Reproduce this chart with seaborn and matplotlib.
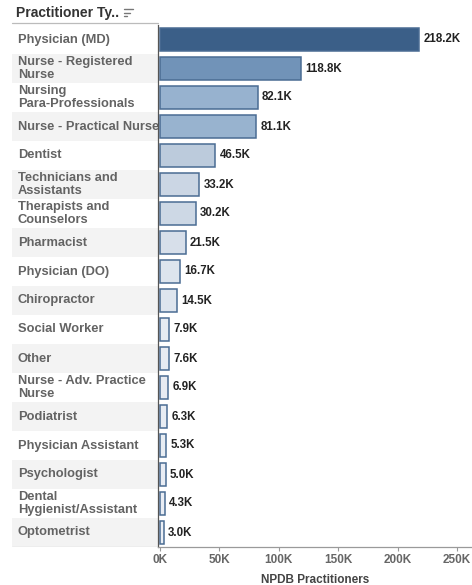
import numpy as np
import pandas as pd
import matplotlib.pyplot as plt
import seaborn as sns
from matplotlib.colors import LinearSegmentedColormap, Normalize
from matplotlib.lines import Line2D

# data (thousands)
practitioner_types = [
    "Physician (MD)", "Nurse - Registered\nNurse", "Nursing\nPara-Professionals",
    "Nurse - Practical Nurse", "Dentist", "Technicians and\nAssistants",
    "Therapists and\nCounselors", "Pharmacist", "Physician (DO)", "Chiropractor",
    "Social Worker", "Other", "Nurse - Adv. Practice\nNurse", "Podiatrist",
    "Physician Assistant", "Psychologist", "Dental\nHygienist/Assistant", "Optometrist",
]
practitioners_k = [218.2, 118.8, 82.1, 81.1, 46.5, 33.2, 30.2, 21.5, 16.7, 14.5,
                   7.9, 7.6, 6.9, 6.3, 5.3, 5.0, 4.3, 3.0]
x_ticks = [0, 50, 100, 150, 200, 250]

df = pd.DataFrame({"type": practitioner_types, "value": practitioners_k})

sns.set_theme(style="white")
plt.rcParams['font.family'] = ['Liberation Sans', 'DejaVu Sans']

W, H = 472, 585
fig = plt.figure(figsize=(W / 100, H / 100), dpi=100)

top, bottom = 25, 547
lab = fig.add_axes([12 / W, 1 - bottom / H, (158 - 12) / W, (bottom - top) / H])
ax = fig.add_axes([158 / W, 1 - bottom / H, (W - 158) / W, (bottom - top) / H])
ax.set_zorder(2)
ax.patch.set_alpha(0)

# sequential blue like the original colour legend
cmap = LinearSegmentedColormap.from_list(
    "tab_blue", [(0.0, "#eef1f6"), (0.21, "#bccbdc"), (0.376, "#97b2cf"),
                 (0.544, "#7193b8"), (1.0, "#3b5f88")])
norm = Normalize(vmin=0, vmax=max(practitioners_k))
colors = [cmap(norm(v)) for v in practitioners_k]

sns.barplot(data=df, x="value", y="type", hue="type", palette=colors, legend=False,
            saturation=1, edgecolor="#4a6c93", linewidth=1.1, width=0.76, ax=ax)

ax.set_ylim(len(df) - 0.5, -0.5)
ax.set_xlim(-250 * 2 / 297, (W - 158 - 2) * 250 / 297)
ax.set_xticks(x_ticks)
ax.set_xticklabels([f"{t}K" for t in x_ticks], fontsize=8.5, color="#666666",
                   fontweight="bold")
ax.set_yticks([])
ax.set_ylabel("")
ax.set_xlabel("NPDB Practitioners", fontsize=8.5, color="#444444", fontweight="bold",
              labelpad=6)
ax.tick_params(axis="x", bottom=True, length=3, width=0.8, color="#999999", pad=2)
for s in ["top", "right"]:
    ax.spines[s].set_visible(False)
ax.spines["bottom"].set_color("#9a9a9a")
ax.spines["bottom"].set_linewidth(0.9)
ax.spines["left"].set_color("#555555")
ax.spines["left"].set_linewidth(0.9)

for container in ax.containers:
    ax.bar_label(container, labels=[f"{v:.1f}K" for v in container.datavalues],
                 padding=3, fontsize=8.3, fontweight="bold", color="#222222")

# label column with banding
lab.set_xlim(0, 1)
lab.set_ylim(len(df) - 0.5, -0.5)
lab.axis("off")
for i, name in enumerate(practitioner_types):
    if i % 2 == 1:
        lab.axhspan(i - 0.5, i + 0.5, color="#f3f3f3", lw=0)
    lab.text(0.04, i, name, va="center", ha="left", fontsize=9.3, fontweight="bold",
             color="#636363", linespacing=1.1)
lab.axhline(len(df) - 0.5, color="#c8c8c8", lw=0.9)

# header
fig.text(16 / W, 1 - 13 / H, "Practitioner Ty..", fontsize=10, fontweight="bold",
         color="#333333", va="center", ha="left")
fig.add_artist(Line2D([12 / W, 158 / W], [1 - 23 / H, 1 - 23 / H], color="#bbbbbb", lw=0.9))
for w, yy in [(9, 9), (6, 12.5), (3, 16)]:
    fig.add_artist(Line2D([124 / W, (124 + w) / W], [1 - yy / H, 1 - yy / H],
                          color="#777777", lw=1.0))

fig.savefig("out.png", dpi=100)
